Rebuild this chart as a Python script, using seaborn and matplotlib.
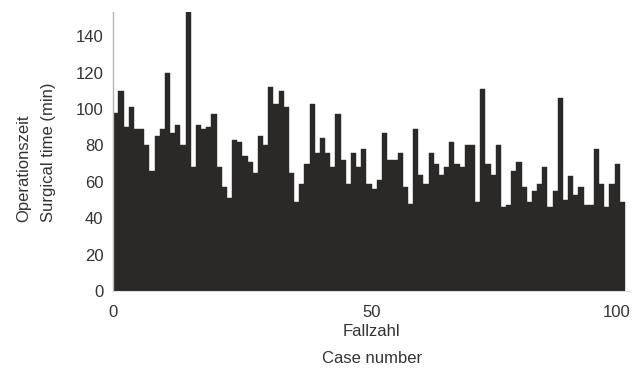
import numpy as np
import pandas as pd
import seaborn as sns
import matplotlib.pyplot as plt

# Surgical time per case (minutes)
surgical_time = [
    98, 110, 90, 101, 89, 89, 80, 66, 85, 89,
    120, 87, 91, 80, 153, 68, 91, 89, 90, 97,
    68, 57, 51, 83, 82, 74, 71, 65, 85, 80,
    112, 103, 110, 101, 65, 49, 59, 70, 103, 76,
    84, 76, 68, 97, 72, 59, 76, 68, 78, 59,
    56, 61, 87, 72, 72, 76, 57, 48, 89, 64,
    59, 76, 70, 64, 68, 82, 70, 68, 80, 80,
    49, 111, 70, 64, 80, 46, 47, 66, 71, 57,
    49, 55, 59, 68, 46, 55, 106, 50, 63, 53,
    57, 47, 47, 78, 59, 46, 59, 70, 49,
]
case_numbers = list(range(len(surgical_time)))
x_ticks = [0, 50, 100]
y_ticks = [0, 20, 40, 60, 80, 100, 120, 140]

df = pd.DataFrame({"case": case_numbers, "time": surgical_time})

sns.set_theme(style="white")
plt.rcParams['font.family'] = ['Liberation Sans', 'DejaVu Sans']

fig = plt.figure(figsize=(6.38, 3.74), dpi=100)
ax = fig.add_axes([0.1776, 0.2219, 0.8099, 0.7447])

sns.histplot(data=df, x="case", weights="time",
             binwidth=1, binrange=(0, len(case_numbers)),
             color="#2b2828", alpha=1, edgecolor="#2b2828", linewidth=0.3,
             ax=ax)

ax.set_xlim(0, 100)
ax.set_ylim(0, 153)
ax.set_xticks(x_ticks)
ax.set_yticks(y_ticks)
ax.xaxis.get_major_ticks()[-1].label1.set_horizontalalignment("right")

ax.tick_params(axis="both", length=0, labelsize=12, colors="#333333")
ax.tick_params(axis="x", pad=10)
ax.tick_params(axis="y", pad=7)

ax.set_xlabel("Fallzahl\nCase number", fontsize=12, color="#333333",
              linespacing=2.0, labelpad=3)
ax.set_ylabel("Operationszeit\nSurgical time (min)", fontsize=12, color="#333333",
              linespacing=1.8, labelpad=14, multialignment="left")

for side in ["top", "right"]:
    ax.spines[side].set_visible(False)
ax.spines["left"].set_color("#b5b5b5")
ax.spines["left"].set_linewidth(1)
ax.spines["bottom"].set_color("#dddddd")
ax.spines["bottom"].set_linewidth(0.8)

fig.savefig("out.png", dpi=100)
